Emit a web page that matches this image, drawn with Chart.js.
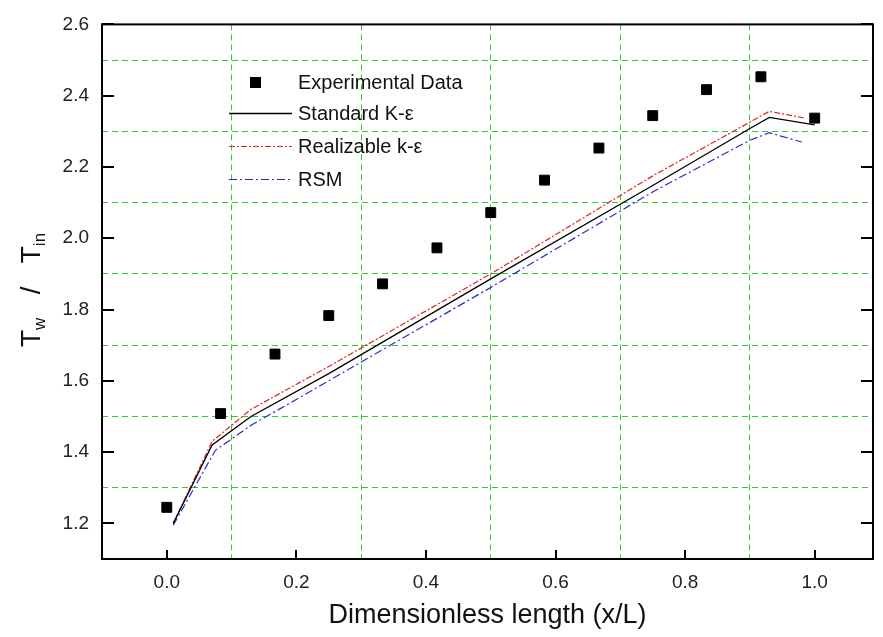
<!DOCTYPE html>
<html>
<head>
<meta charset="utf-8">
<script src="https://cdn.jsdelivr.net/npm/chart.js@4.4.0/dist/chart.umd.min.js"></script>
<style>
    html, body { margin: 0; padding: 0; background: #fff; }
    #wrap { width: 883px; height: 637px; }
</style>
</head>
<body>
<div id="wrap"><canvas id="chart" width="883" height="637"></canvas></div>
<script>
// Données expérimentales (carrés)
const expX = [0, 0.083, 0.167, 0.25, 0.333, 0.417, 0.5, 0.583, 0.667, 0.75, 0.833, 0.917, 1.0];
const expY = [1.245, 1.508, 1.675, 1.783, 1.872, 1.973, 2.072, 2.163, 2.253, 2.344, 2.417, 2.453, 2.337];

// Modèles de turbulence
const stdX = [0.01, 0.07, 0.13, 0.25, 0.5, 0.75, 0.9, 0.93, 1.0];
const stdY = [1.20, 1.42, 1.50, 1.62, 1.886, 2.148, 2.308, 2.339, 2.318];

const realX = [0.01, 0.07, 0.13, 0.25, 0.5, 0.75, 0.93, 0.985];
const realY = [1.20, 1.43, 1.52, 1.64, 1.90, 2.175, 2.356, 2.337];

const rsmX = [0.01, 0.075, 0.13, 0.25, 0.5, 0.75, 0.9, 0.93, 0.98];
const rsmY = [1.195, 1.405, 1.475, 1.60, 1.862, 2.13, 2.275, 2.296, 2.27];

const seriesNames = ['Experimental Data', 'Standard K-ε', 'Realizable k-ε', 'RSM'];
const xTitle = 'Dimensionless length (x/L)';
const xTicks = [0.0, 0.2, 0.4, 0.6, 0.8, 1.0];
const yTicks = [1.2, 1.4, 1.6, 1.8, 2.0, 2.2, 2.4, 2.6];

const FONT = "'Liberation Sans', Arial, sans-serif";

function toPoints(xs, ys) {
    return xs.map((x, i) => ({ x: x, y: ys[i] }));
}

function isTick(list, v) {
    return list.some(t => Math.abs(t - v) < 1e-6);
}

// grille verte aux valeurs impaires (0.1, 0.3, ...)
function gridColor(ctx) {
    const k = Math.round(ctx.tick.value * 10);
    return (Math.abs(k) % 2 === 1) ? '#2ecc2e' : 'rgba(0,0,0,0)';
}

// Cadre + graduations intérieures
const frameTicks = {
    id: 'frameTicks',
    afterDraw(chart) {
        const { ctx, chartArea: a, scales: { x, y } } = chart;
        ctx.save();
        ctx.strokeStyle = '#000';
        ctx.lineWidth = 2;
        ctx.beginPath();
        xTicks.forEach(v => {
            const px = Math.round(x.getPixelForValue(v));
            ctx.moveTo(px, a.bottom);
            ctx.lineTo(px, a.bottom - 9);
        });
        yTicks.forEach(v => {
            const py = Math.round(y.getPixelForValue(v));
            ctx.moveTo(a.left, py);
            ctx.lineTo(a.left + 12, py);
            ctx.moveTo(a.right, py);
            ctx.lineTo(a.right - 12, py);
        });
        ctx.stroke();
        ctx.strokeRect(a.left, a.top, a.right - a.left, a.bottom - a.top);
        ctx.restore();
    }
};

// Légende dans la zone du graphique + titre Y avec indices
const legendAndTitle = {
    id: 'legendAndTitle',
    afterDraw(chart) {
        const ctx = chart.ctx;
        const ds = chart.data.datasets;
        const rows = [82, 113, 146, 179];
        ctx.save();
        ctx.font = '20px ' + FONT;
        ctx.textBaseline = 'middle';
        ctx.textAlign = 'left';
        rows.forEach((ry, i) => {
            const d = ds[i];
            if (i === 0) {
                ctx.fillStyle = '#000';
                ctx.fillRect(250, ry - 5, 11, 11);
            } else {
                ctx.strokeStyle = d.borderColor;
                ctx.lineWidth = d.borderWidth;
                ctx.setLineDash(d.borderDash || []);
                ctx.beginPath();
                ctx.moveTo(229, ry + 0.5);
                ctx.lineTo(292, ry + 0.5);
                ctx.stroke();
                ctx.setLineDash([]);
            }
            ctx.fillStyle = '#111';
            ctx.fillText(d.label, 298, ry + 1);
        });

        // Titre de l'axe Y : T_w / T_in
        const parts = [
            { t: 'T', sub: false },
            { t: 'w', sub: true },
            { t: '   /   ', sub: false },
            { t: 'T', sub: false },
            { t: 'in', sub: true }
        ];
        const big = '28px ' + FONT;
        const small = '17px ' + FONT;
        let total = 0;
        parts.forEach(p => {
            ctx.font = p.sub ? small : big;
            p.w = ctx.measureText(p.t).width;
            total += p.w;
        });
        ctx.translate(30, 290);
        ctx.rotate(-Math.PI / 2);
        ctx.textBaseline = 'alphabetic';
        ctx.fillStyle = '#111';
        let cx = -total / 2;
        parts.forEach(p => {
            ctx.font = p.sub ? small : big;
            ctx.fillText(p.t, cx, p.sub ? 15 : 10);
            cx += p.w;
        });
        ctx.restore();
    }
};

new Chart(document.getElementById('chart'), {
    type: 'scatter',
    data: {
        datasets: [
            {
                label: seriesNames[0],
                data: toPoints(expX, expY),
                pointStyle: 'rect',
                pointRadius: 7,
                backgroundColor: '#000',
                borderColor: '#000',
                borderWidth: 1
            },
            {
                label: seriesNames[1],
                data: toPoints(stdX, stdY),
                showLine: true,
                pointRadius: 0,
                borderColor: '#000',
                borderWidth: 1.3
            },
            {
                label: seriesNames[2],
                data: toPoints(realX, realY),
                showLine: true,
                pointRadius: 0,
                borderColor: '#e02525',
                borderWidth: 1.2,
                borderDash: [6, 2, 2, 2]
            },
            {
                label: seriesNames[3],
                data: toPoints(rsmX, rsmY),
                showLine: true,
                pointRadius: 0,
                borderColor: '#2a2acc',
                borderWidth: 1.2,
                borderDash: [8, 3, 2, 3]
            }
        ]
    },
    options: {
        responsive: false,
        animation: false,
        devicePixelRatio: 1,
        layout: { padding: { top: 23, right: 10, bottom: 0, left: 0 } },
        plugins: {
            legend: { display: false },
            tooltip: { enabled: false }
        },
        scales: {
            x: {
                type: 'linear',
                min: -0.1,
                max: 1.09,
                afterFit: s => { s.height = 78; },
                border: { display: false, dash: [6, 4] },
                grid: { color: gridColor, lineWidth: 1, drawTicks: false },
                ticks: {
                    stepSize: 0.1,
                    includeBounds: false,
                    autoSkip: false,
                    maxRotation: 0,
                    padding: 12,
                    color: '#222',
                    font: { family: FONT, size: 19 },
                    callback: v => isTick(xTicks, v) ? v.toFixed(1) : ''
                },
                title: {
                    display: true,
                    text: xTitle,
                    color: '#111',
                    font: { family: FONT, size: 27 },
                    padding: { top: 0, bottom: 5 }
                }
            },
            y: {
                type: 'linear',
                min: 1.1,
                max: 2.6,
                afterFit: s => { s.width = 102; },
                border: { display: false, dash: [6, 4] },
                grid: { color: gridColor, lineWidth: 1, drawTicks: false },
                ticks: {
                    stepSize: 0.1,
                    autoSkip: false,
                    padding: 13,
                    color: '#222',
                    font: { family: FONT, size: 19 },
                    callback: v => isTick(yTicks, v) ? v.toFixed(1) : ''
                }
            }
        }
    },
    plugins: [frameTicks, legendAndTitle]
});
</script>
</body>
</html>
